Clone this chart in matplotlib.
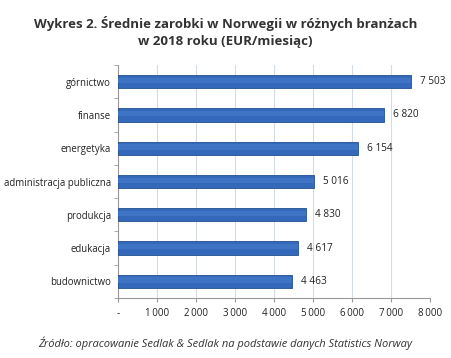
import numpy as np
import matplotlib.pyplot as plt
from matplotlib.ticker import FixedLocator, FuncFormatter

branze = ['górnictwo', 'finanse', 'energetyka', 'administracja publiczna',
          'produkcja', 'edukacja', 'budownictwo']
zarobki = [7503, 6820, 6154, 5016, 4830, 4617, 4463]

tytul = 'Wykres 2. Średnie zarobki w Norwegii w różnych branżach\nw 2018 roku (EUR/miesiąc)'
zrodlo = 'Źródło: opracowanie Sedlak & Sedlak na podstawie danych Statistics Norway'

plt.rcParams['font.family'] = ['Open Sans', 'DejaVu Sans']

fig = plt.figure(figsize=(4.51, 3.58), dpi=100)
ax = fig.add_axes([0.2616, 0.1676, 0.6918, 0.6508])

y = np.arange(len(branze))[::-1]
ax.barh(y, zarobki, height=0.4, color='#3368ba', edgecolor='#24508f', linewidth=0.6, zorder=3)
# delikatnie jaśniejszy środek słupka (efekt 3D)
ax.barh(y + 0.04, zarobki, height=0.16, color='#3f74c4', linewidth=0, zorder=4)

for yi, v in zip(y, zarobki):
    ax.text(v + 230, yi, f'{v:,}'.replace(',', ' '), va='center', ha='left',
            fontsize=7.2, color='#222222')

ax.set_xlim(0, 8000)
ax.set_ylim(-0.5, len(branze) - 0.5)
ax.set_yticks(y)
ax.set_yticklabels(branze, fontsize=6.9, color='#222222')
ax.tick_params(axis='y', length=0, pad=5)
ax.yaxis.set_minor_locator(FixedLocator(np.arange(-0.5, len(branze), 1)))
ax.tick_params(axis='y', which='minor', length=3, color='#999999', direction='out')

ax.set_xticks(np.arange(0, 8001, 1000))
ax.xaxis.set_major_formatter(FuncFormatter(lambda v, p: '-' if v == 0 else f'{int(v):,}'.replace(',', '\u2009')))
ax.tick_params(axis='x', labelsize=7, length=3, color='#999999', labelcolor='#222222', pad=4)

ax.grid(axis='x', color='#d5dbe5', linewidth=0.8, zorder=0)
for s in ['top', 'right']:
    ax.spines[s].set_visible(False)
for s in ['left', 'bottom']:
    ax.spines[s].set_color('#999999')
    ax.spines[s].set_linewidth(0.8)

fig.text(0.5, 0.955, tytul, ha='center', va='top', fontsize=9.5, fontweight='bold',
         color='#333333', linespacing=1.35)
fig.text(0.5, 0.042, zrodlo, ha='center', va='center', fontsize=8, style='italic',
         color='#333333')

fig.savefig('out.png', dpi=100)
